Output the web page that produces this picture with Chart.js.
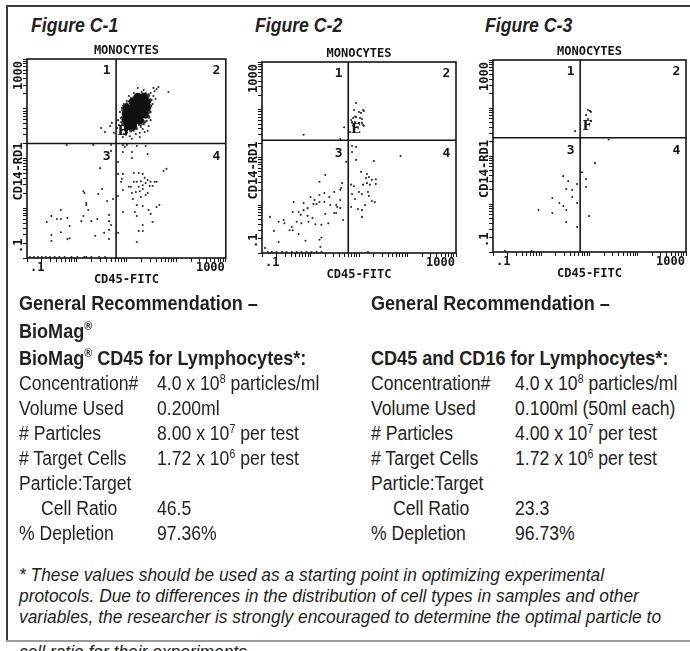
<!DOCTYPE html>
<html>
<head>
<meta charset="utf-8">
<script src="https://cdn.jsdelivr.net/npm/chart.js@4.4.1/dist/chart.umd.min.js"></script>
<style>
  html, body { margin: 0; padding: 0; background: #fff; }
  body { width: 690px; height: 651px; position: relative; overflow: hidden; }
  .frame { position: absolute; background: #3a3a3a; }
  .plot { position: absolute; }
  .t { position: absolute; white-space: nowrap; color: #231f20; transform-origin: 0 0;
       font-family: "Liberation Sans", Arial, sans-serif; }
  .reg  { font-size: 20px; line-height: 25px; transform: scaleX(0.88); }
  .bold { font-size: 21px; line-height: 25px; font-weight: bold; transform: scaleX(0.86); }
  .fig  { font-size: 21px; line-height: 25px; font-weight: bold; font-style: italic; transform: scaleX(0.84); }
  .note { font-size: 18px; line-height: 21px; font-style: italic; transform: scaleX(0.965); }
  sup { font-size: 0.6em; line-height: 0; vertical-align: 0.6em; }
</style>
</head>
<body>

<div class="frame" style="left:6px;top:5px;width:684px;height:2px"></div>
<div class="frame" style="left:6px;top:5px;width:2px;height:637px"></div>

<div class="t fig" style="left:31px;top:12px">Figure C-1</div>
<div class="t fig" style="left:255px;top:12px">Figure C-2</div>
<div class="t fig" style="left:485px;top:12px">Figure C-3</div>

<div class="plot" id="p1"><canvas id="c1"></canvas></div>
<div class="plot" id="p2"><canvas id="c2"></canvas></div>
<div class="plot" id="p3"><canvas id="c3"></canvas></div>

<!-- left column -->
<div class="t bold" style="left:19px;top:290px">General Recommendation –</div>
<div class="t bold" style="left:19px;top:318px">BioMag<sup>®</sup></div>
<div class="t bold" style="left:19px;top:345px">BioMag<sup>®</sup> CD45 for Lymphocytes*:</div>
<div class="t reg" style="left:19px;top:371px">Concentration#</div>
<div class="t reg" style="left:157px;top:371px">4.0 x 10<sup>8</sup> particles/ml</div>
<div class="t reg" style="left:19px;top:396px">Volume Used</div>
<div class="t reg" style="left:157px;top:396px">0.200ml</div>
<div class="t reg" style="left:19px;top:421px"># Particles</div>
<div class="t reg" style="left:157px;top:421px">8.00 x 10<sup>7</sup> per test</div>
<div class="t reg" style="left:19px;top:446px"># Target Cells</div>
<div class="t reg" style="left:157px;top:446px">1.72 x 10<sup>6</sup> per test</div>
<div class="t reg" style="left:19px;top:471px">Particle:Target</div>
<div class="t reg" style="left:41px;top:496px">Cell Ratio</div>
<div class="t reg" style="left:157px;top:496px">46.5</div>
<div class="t reg" style="left:19px;top:521px">% Depletion</div>
<div class="t reg" style="left:157px;top:521px">97.36%</div>

<!-- right column -->
<div class="t bold" style="left:371px;top:290px">General Recommendation –</div>
<div class="t bold" style="left:371px;top:345px">CD45 and CD16 for Lymphocytes*:</div>
<div class="t reg" style="left:371px;top:371px">Concentration#</div>
<div class="t reg" style="left:515px;top:371px">4.0 x 10<sup>8</sup> particles/ml</div>
<div class="t reg" style="left:371px;top:396px">Volume Used</div>
<div class="t reg" style="left:515px;top:396px">0.100ml (50ml each)</div>
<div class="t reg" style="left:371px;top:421px"># Particles</div>
<div class="t reg" style="left:515px;top:421px">4.00 x 10<sup>7</sup> per test</div>
<div class="t reg" style="left:371px;top:446px"># Target Cells</div>
<div class="t reg" style="left:515px;top:446px">1.72 x 10<sup>6</sup> per test</div>
<div class="t reg" style="left:371px;top:471px">Particle:Target</div>
<div class="t reg" style="left:393px;top:496px">Cell Ratio</div>
<div class="t reg" style="left:515px;top:496px">23.3</div>
<div class="t reg" style="left:371px;top:521px">% Depletion</div>
<div class="t reg" style="left:515px;top:521px">96.73%</div>

<!-- footnote -->
<div class="t note" style="left:19px;top:565px">* These values should be used as a starting point in optimizing experimental</div>
<div class="t note" style="left:19px;top:586px">protocols. Due to differences in the distribution of cell types in samples and other</div>
<div class="t note" style="left:19px;top:607px">variables, the researcher is strongly encouraged to determine the optimal particle to</div>
<div class="t note" style="left:19px;top:642px">cell ratio for their experiments.</div>
<div class="frame" style="left:6px;top:640px;width:684px;height:2px;background:#9a9a9a"></div>

<script>
// ---- axis / gate settings (log decades .1 .. 1000) ----
const AXIS_MIN = 0.1;
const AXIS_MAX = 1000;
const LOG_TICKS = [0.1, 0.2, 0.3, 0.4, 0.5, 0.6, 0.7, 0.8, 0.9,
                   1, 2, 3, 4, 5, 6, 7, 8, 9,
                   10, 20, 30, 40, 50, 60, 70, 80, 90,
                   100, 200, 300, 400, 500, 600, 700, 800, 900, 1000];
const TICK_LABELS = [".1", "1000"];
const TICK_LABEL_VALUES = [0.1, 1000];
const QUADRANTS = ["1", "2", "3", "4"];
const PLOT_TITLE = "MONOCYTES";
const X_TITLE = "CD45-FITC";
const Y_TITLE = "CD14-RD1";

const GATE_X = [6.2, 6.0, 6.4];
const GATE_Y = [20, 23, 24];
const REGION_NAMES = ["B", "E", "F"];
const REGION_X = [8.5, 8.7, 8.9];
const REGION_Y = [34, 38, 40];

// ---- events, [CD45, CD14] ----
// figure C-1 : dense monocyte population (heavy dots, then a grainy rim)
const fig1Cluster = [
  [16.9, 172], [22.3, 172],
  [13.5, 137], [16.9, 137], [21.3, 137], [25.6, 137],
  [10.2, 104], [12.9, 104], [16.2, 104], [20.3, 104], [25.6, 104],
  [9.8, 78], [12.3, 78], [15.5, 78], [19.5, 78], [23.3, 78],
  [9.8, 59], [12.3, 59], [15.5, 59], [18.6, 59],
  [10.7, 45], [13.5, 45]
];
const fig1Rim = [
  [8.5, 94], [8.9, 68], [8.5, 49], [9.8, 37], [12.3, 36], [15.5, 41], [19.5, 49], [23.3, 54],
  [28, 68], [29.4, 86], [30.7, 113], [30.7, 150], [28, 189], [24.4, 189], [20.3, 180], [16.2, 189],
  [14.1, 164], [11.7, 143], [10.2, 125], [8.9, 113], [8.1, 65], [9.3, 57], [21.3, 82], [26.8, 119],
  [23.3, 150]
];
const fig1Events = [
  // halo of the monocyte cloud
  [7.4, 86], [7.8, 65], [7.1, 47], [8.1, 37], [8.9, 31], [10.2, 33], [11.7, 28], [14.1, 36],
  [16.2, 39], [19.5, 43], [22.3, 49], [25.6, 57], [28, 71], [30.7, 86], [29.4, 119], [32, 150],
  [28, 172], [30.7, 207], [24.4, 207], [20.3, 217], [17.7, 198], [14.8, 180], [12.3, 164], [10.2, 143],
  [8.9, 125], [8.1, 104], [8.5, 82], [6.8, 59], [6.5, 41], [7.8, 54], [9.3, 41], [12.9, 37],
  [17.7, 47], [24.4, 65], [29.4, 99], [35, 180], [37, 227], [33.7, 125], [26.8, 90], [9.8, 30],
  [8.5, 27], [15.5, 31], [21.3, 39], [23.3, 34], [18.6, 33], [30.7, 59], [35, 261], [40.5, 249],
  [38.6, 157], [44, 274], [28, 45], [26.8, 36], [18.6, 27], [12.9, 25], [16.9, 261], [22.3, 238],
  [14.1, 207], [11.2, 180],
  [70, 217], [3.1, 41], [3.7, 34], [4.7, 45], [5.1, 52], [5.6, 33],
  // quadrant 3
  [0.63, 18.7], [2.15, 18.7], [4.91, 18.7], [4.91, 14.2], [2.97, 6.4], [3.25, 2.44], [2.71, 1.93],
  [1.36, 2.2], [4.09, 1.4], [1.56, 1.28], [1.56, 1.16], [1.71, 0.92], [5.38, 1.53], [4.48, 0.73],
  [0.48, 0.92], [0.31, 0.70], [0.65, 0.64], [0.48, 0.61], [0.40, 0.61], [0.25, 0.53], [0.72, 0.44],
  [1.24, 0.55], [1.36, 0.70], [1.97, 0.55], [2.59, 0.61], [4.48, 0.55], [4.91, 0.46], [0.48, 0.33],
  [0.31, 0.29], [0.31, 0.22], [0.65, 0.24], [0.72, 0.25], [2.36, 0.28], [3.57, 0.32], [4.48, 0.37],
  [4.48, 0.24], [1.43, 2.03], [1.56, 0.105],
  [0.115, 0.105], [0.138, 0.105], [0.166, 0.105], [0.20, 0.105], [0.24, 0.105], [0.29, 0.105],
  [0.36, 0.105], [0.45, 0.105], [0.57, 0.105], [0.79, 0.105], [1.03, 0.105], [1.43, 0.105],
  [1.97, 0.105], [2.84, 0.105], [3.73, 0.105],
  // quadrant 4
  [8.5, 18.7], [10.2, 18.7], [16.2, 17.8], [24.4, 17.8], [9.3, 17], [12.9, 13.5], [8.5, 13.5],
  [26.8, 12.3], [12.9, 10.2], [6.8, 8.5], [8.5, 4.9], [6.8, 4.9], [14.1, 5.1], [17.7, 5.1],
  [21.3, 4.9], [8.1, 3.9], [7.8, 3.4], [12.3, 2.7], [14.1, 3.4], [16.2, 3.4], [19.5, 3.5],
  [23.3, 4.1], [26.8, 3.7], [30.7, 3.4], [37, 3.4], [40.5, 3.4], [64, 6.2], [56, 5.6], [11.2, 2.7],
  [17.7, 2.7], [21.3, 2.9], [24.4, 3.2], [29.4, 2.8], [33.7, 2.8], [8.5, 2.33], [12.9, 2.03],
  [15.5, 2.12], [18.6, 2.2], [21.3, 2.44], [26.8, 2.03], [24.4, 1.85], [19.5, 1.68], [13.5, 1.53],
  [16.2, 1.16], [21.3, 1.11], [6.8, 1.76], [40.5, 1.06], [46, 1.16], [28, 0.92], [8.5, 0.84],
  [14.8, 0.84], [30.7, 0.77], [16.2, 0.70], [33.7, 0.53], [21.3, 0.46], [17.7, 0.35], [21.3, 0.35],
  [16.2, 0.21], [6.8, 0.32]
];

// figure C-2
const fig2Events = [
  [8.7, 138], [10, 90], [12.6, 94], [11, 86], [7.55, 67], [8.7, 70], [10.5, 67], [6.87, 61],
  [8.3, 55], [10, 53], [12.1, 48], [7.55, 46], [9.1, 43], [11.5, 64], [7.9, 40], [6.55, 34],
  [7.9, 99], [12.1, 99], [8.3, 72], [7.2, 55], [11.5, 53], [12.6, 46], [4.94, 43], [0.72, 30],
  [4.1, 24.4],
  [2.02, 4.3], [1.53, 3.1], [5.43, 8.1], [4.5, 2.9], [4.29, 2.3], [4.1, 2.1], [3.09, 1.9],
  [1.93, 1.8], [2.44, 1.49], [1.53, 1.64], [1.0, 1.49], [1.21, 1.29], [1.53, 1.17], [1.93, 1.17],
  [0.45, 1.17], [0.72, 1.11], [0.87, 0.87], [0.72, 0.79], [0.57, 0.72], [0.43, 0.72], [1.15, 1.06],
  [1.33, 1.06], [2.56, 1.01], [3.56, 0.92], [3.39, 0.69], [2.02, 0.66], [1.10, 0.54], [0.91, 0.45],
  [0.65, 0.42], [0.41, 0.35], [0.37, 0.30], [0.28, 0.49], [0.29, 0.42], [0.22, 0.45], [0.146, 0.57],
  [0.176, 0.29], [0.22, 0.17], [0.57, 0.25], [0.79, 0.18], [1.53, 0.19], [1.68, 0.21], [1.6, 0.134],
  [4.71, 0.49], [4.1, 0.87], [3.09, 0.69], [0.87, 0.60], [1.26, 0.40], [1.68, 0.39], [2.33, 0.42],
  [0.63, 0.63], [0.52, 0.45], [0.43, 0.30], [4.1, 1.29], [3.39, 1.01], [0.115, 0.127],
  [0.132, 0.105], [0.16, 0.105], [0.20, 0.105], [0.26, 0.105], [0.32, 0.105], [0.41, 0.105],
  [0.52, 0.105], [0.65, 0.105], [0.83, 0.105], [1.05, 0.105], [1.33, 0.105], [1.68, 0.105],
  [7.2, 17.4], [8.7, 16.6], [7.2, 13], [8.7, 8.9], [20.2, 8.4], [72, 10.7], [11, 5], [14.6, 4.5],
  [16, 3.9], [13.9, 3.7], [22.2, 3.5], [22.2, 2.8], [16.8, 2.7], [12.1, 2.7], [18.4, 3.4],
  [6.87, 2.7], [7.9, 2.5], [15.3, 1.9], [10, 1.9], [11.5, 1.72], [7.2, 1.72], [16, 1.56],
  [8.3, 1.35], [18.4, 1.23], [21.2, 1.17], [13.3, 1.01], [6.87, 0.92], [9.5, 0.83], [11.5, 0.57],
  [15.3, 0.105], [11.5, 0.79], [14.6, 2.9]
];

// figure C-3
const fig3Events = [
  [9.3, 91], [10.7, 83], [8.5, 71], [9.3, 59], [10.7, 54], [9.8, 46], [10.2, 87], [5.04, 33],
  [25, 22],
  [2.86, 3.8], [3.62, 3.0], [5.54, 2.6], [3.3, 2.05], [4.38, 1.96], [4.38, 1.40], [1.70, 1.33],
  [2.37, 1.05], [2.86, 0.91], [5.54, 1.05], [0.88, 0.75], [3.3, 0.75], [1.70, 0.65], [3.3, 0.42],
  [5.54, 0.33],
  [13, 7.1], [7.0, 4.6], [8.5, 3.3], [8.5, 2.26], [9.8, 0.56],
  [0.176, 0.105], [0.63, 0.105]
];

const INK = "#141414";
const MONO = '"DejaVu Sans Mono", monospace';

// quadrant gates, box, labels drawn from the chart's own scales
const flowDecor = {
  id: "flowDecor",
  afterDatasetsDraw(chart, args, o) {
    const { ctx, chartArea: a, scales: { x, y } } = chart;
    const gx = x.getPixelForValue(GATE_X[o.i]);
    const gy = y.getPixelForValue(GATE_Y[o.i]);
    ctx.save();
    ctx.strokeStyle = INK;
    ctx.lineWidth = 1.6;
    ctx.strokeRect(a.left, a.top, a.width, a.height);
    ctx.beginPath();
    ctx.moveTo(gx, a.top); ctx.lineTo(gx, a.bottom);
    ctx.moveTo(a.left, gy); ctx.lineTo(a.right, gy);
    ctx.stroke();

    ctx.fillStyle = INK;
    ctx.textAlign = "center";
    ctx.textBaseline = "middle";
    ctx.font = "bold 13px " + MONO;
    const qx = [gx - 9.5, a.right - 9.5, gx - 9.5, a.right - 9.5];
    const qy = [a.top + 12, a.top + 12, gy + 13, gy + 13];
    QUADRANTS.forEach((q, k) => ctx.fillText(q, qx[k], qy[k]));

    ctx.font = 'bold 13px "DejaVu Serif", serif';
    ctx.fillText(REGION_NAMES[o.i], x.getPixelForValue(REGION_X[o.i]), y.getPixelForValue(REGION_Y[o.i]));

    ctx.font = "bold 12px " + MONO;
    ctx.fillText(PLOT_TITLE, (a.left + a.right) / 2, a.top - 8);
    ctx.fillText(X_TITLE, (a.left + a.right) / 2, a.bottom + 22);
    ctx.textAlign = "left";
    ctx.fillText(TICK_LABELS[0], x.getPixelForValue(TICK_LABEL_VALUES[0]) + 3, a.bottom + 10);
    ctx.textAlign = "right";
    ctx.fillText(TICK_LABELS[1], x.getPixelForValue(TICK_LABEL_VALUES[1]) - 1, a.bottom + 10);

    // rotated y labels (read bottom to top)
    ctx.translate(a.left - 8, 0);
    ctx.rotate(-Math.PI / 2);
    ctx.textAlign = "right";
    ctx.fillText(TICK_LABELS[1], -(y.getPixelForValue(TICK_LABEL_VALUES[1]) + 2), 0);
    ctx.textAlign = "left";
    ctx.fillText(TICK_LABELS[0], -(y.getPixelForValue(TICK_LABEL_VALUES[0]) - 5), 0);
    ctx.textAlign = "center";
    ctx.fillText(Y_TITLE, -((a.top + a.bottom) / 2 + 13), 0);
    ctx.restore();
  }
};

function logAxis(isX) {
  return {
    type: "logarithmic",
    min: AXIS_MIN,
    max: AXIS_MAX,
    afterBuildTicks: s => { s.ticks = LOG_TICKS.map(v => ({ value: v })); },
    afterFit: s => { if (isX) s.height = 4; else s.width = 4; },
    ticks: { display: false },
    grid: { drawOnChartArea: false, drawTicks: true, tickLength: 4, color: INK, lineWidth: 1 },
    border: { display: false }
  };
}

function toPoints(list) {
  return list.map(([x, y]) => ({ x, y }));
}

// chart area of each plot on the page: left, top, right, bottom
const PLOT_BOXES = [
  [27, 59, 228, 258],
  [262, 62, 458, 253],
  [493, 60, 688, 252]
];

function makePlot(i, datasets) {
  const [l, t, r, b] = PLOT_BOXES[i];
  const holder = document.getElementById("p" + (i + 1));
  holder.style.left = (l - 30) + "px";
  holder.style.top = (t - 30) + "px";
  holder.style.width = (r - l + 32) + "px";
  holder.style.height = (b - t + 70) + "px";
  return new Chart(document.getElementById("c" + (i + 1)), {
    type: "scatter",
    data: { datasets },
    options: {
      responsive: true,
      maintainAspectRatio: false,
      animation: false,
      layout: { padding: { left: 26, top: 30, right: 2, bottom: 36 } },
      plugins: { legend: { display: false }, tooltip: { enabled: false }, flowDecor: { i } },
      scales: { x: logAxis(true), y: logAxis(false) }
    },
    plugins: [flowDecor]
  });
}

const dots = (data, r, c) => ({ data: toPoints(data), pointRadius: r, pointBorderWidth: 0, pointBackgroundColor: c });

makePlot(0, [
  dots(fig1Cluster, 4.2, "#111"),
  dots(fig1Rim, 1.8, "#3c3c3c"),
  dots(fig1Events, 1.05, "#2a2a2a")
]);
makePlot(1, [dots(fig2Events, 1.05, "#2a2a2a")]);
makePlot(2, [dots(fig3Events, 1.05, "#2a2a2a")]);
</script>
</body>
</html>
